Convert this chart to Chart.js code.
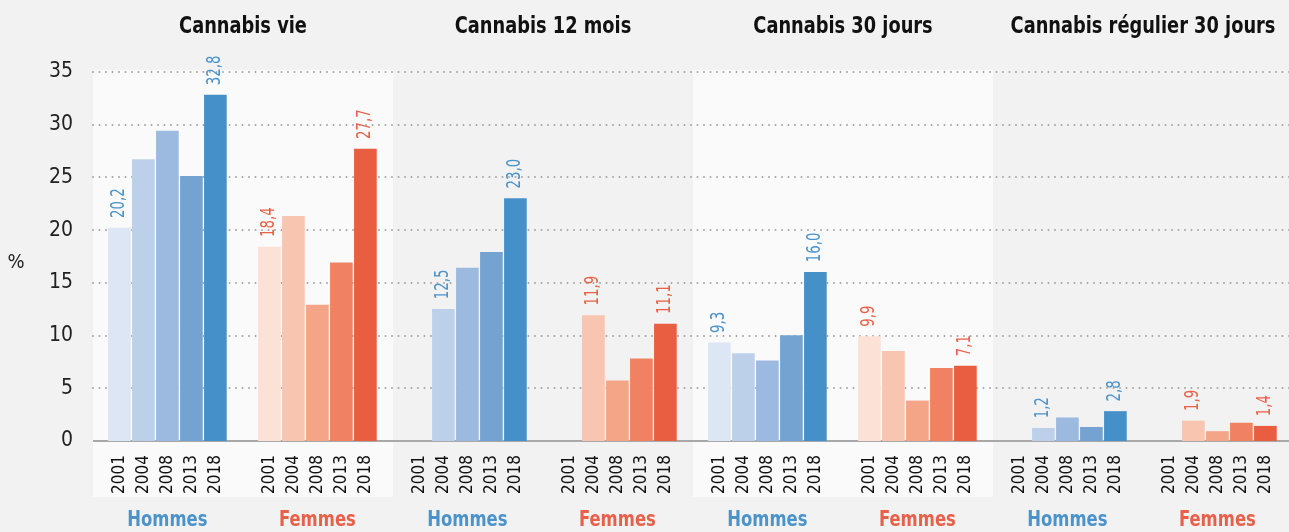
<!DOCTYPE html>
<html>
<head>
<meta charset="utf-8">
<script src="https://cdn.jsdelivr.net/npm/chart.js@4"></script>
<style>
html, body { margin: 0; padding: 0; background: #f2f2f2; overflow: hidden; }
#wrap { width: 1293px; height: 532px; }
</style>
</head>
<body>
<div id="wrap"><canvas id="cannabisChart" width="1293" height="532"></canvas></div>
<script>
/* data */
const panelTitles = ["Cannabis vie", "Cannabis 12 mois", "Cannabis 30 jours", "Cannabis régulier 30 jours"];
const groups = ["Hommes", "Femmes"];
const years = ["2001", "2004", "2008", "2013", "2018"];
const hommes = [
    [20.2, 26.7, 29.4, 25.1, 32.8],
    [null, 12.5, 16.4, 17.9, 23.0],
    [9.3, 8.3, 7.6, 10.0, 16.0],
    [null, 1.2, 2.2, 1.3, 2.8]
];
const femmes = [
    [18.4, 21.3, 12.9, 16.9, 27.7],
    [null, 11.9, 5.7, 7.8, 11.1],
    [9.9, 8.5, 3.8, 6.9, 7.1],
    [null, 1.9, 0.9, 1.7, 1.4]
];
const yTicks = [0, 5, 10, 15, 20, 25, 30, 35];

/* styles */
const hommesColors = ["#dce6f4", "#bdd0e9", "#9cbadf", "#74a3d2", "#4590c8"];
const femmesColors = ["#fce1d6", "#f8c5b1", "#f4a487", "#f08263", "#e95d40"];
const groupColors = ["#4b93cb", "#e9604a"];
const FONT = "'Liberation Sans Narrow', 'DejaVu Sans Condensed', 'Liberation Sans', sans-serif";

/* layout in bar slots */
const PANEL = 12.5;
const groupOffset = [0.6, 6.85];

const points = [];
const colors = [];
const labelFlags = [];
[hommes, femmes].forEach((series, g) => {
    series.forEach((vals, p) => {
        const first = vals.findIndex(v => v !== null);
        vals.forEach((v, i) => {
            points.push({ x: p * PANEL + groupOffset[g] + i + 0.5, y: v, g: g, i: i });
            colors.push((g === 0 ? hommesColors : femmesColors)[i]);
            labelFlags.push(v !== null && (i === first || i === vals.length - 1));
        });
    });
});
// ticks sorted by position
const order = points.map((pt, k) => k).sort((a, b) => points[a].x - points[b].x);
const tickPos = order.map(k => points[k].x);
const tickLabels = order.map(k => years[points[k].i]);

// draw condensed text (sx squeezes along the text direction)
function squeezeText(ctx, text, x, y, sx) {
    ctx.save();
    ctx.translate(x, y);
    ctx.scale(sx, 1);
    ctx.fillText(text, 0, 0);
    ctx.restore();
}

const decorPlugin = {
    id: "decor",
    beforeDraw(chart) {
        const { ctx, chartArea, scales: { x } } = chart;
        ctx.save();
        ctx.fillStyle = "#fafafa";
        [0, 2].forEach(p => {
            const l = x.getPixelForValue(p * PANEL);
            const r = x.getPixelForValue((p + 1) * PANEL);
            ctx.fillRect(l, chartArea.top - 2, r - l, 497 - chartArea.top + 2);
        });
        ctx.restore();
    },
    beforeDatasetsDraw(chart) {
        const { ctx, chartArea, scales: { y } } = chart;
        ctx.save();
        yTicks.forEach(t => {
            const py = Math.round(y.getPixelForValue(t));
            ctx.beginPath();
            if (t === 0) {
                ctx.setLineDash([]);
                ctx.strokeStyle = "#a8a8a8";
                ctx.lineWidth = 2;
            } else {
                ctx.setLineDash([0, 6.5]);
                ctx.lineCap = "round";
                ctx.strokeStyle = "#a6a6a6";
                ctx.lineWidth = 2;
            }
            ctx.moveTo(chartArea.left, py);
            ctx.lineTo(chartArea.right, py);
            ctx.stroke();
        });
        ctx.restore();
    },
    afterDatasetsDraw(chart) {
        const { ctx, scales: { x } } = chart;
        const meta = chart.getDatasetMeta(0);
        ctx.save();
        // value labels
        ctx.font = "19px " + FONT;
        ctx.textAlign = "left";
        ctx.textBaseline = "middle";
        meta.data.forEach((bar, k) => {
            if (!labelFlags[k]) return;
            const pt = points[k];
            ctx.save();
            ctx.translate(bar.x, bar.y - 10);
            ctx.rotate(-Math.PI / 2);
            ctx.fillStyle = groupColors[pt.g];
            squeezeText(ctx, pt.y.toFixed(1).replace(".", ","), 0, 0, 0.78);
            ctx.restore();
        });
        // panel titles
        ctx.fillStyle = "#111";
        ctx.textAlign = "center";
        ctx.font = "bold 23px " + FONT;
        panelTitles.forEach((t, p) => {
            squeezeText(ctx, t, x.getPixelForValue(p * PANEL + PANEL / 2), 27, 0.86);
        });
        // group labels
        ctx.font = "bold 21px " + FONT;
        panelTitles.forEach((t, p) => {
            groups.forEach((gname, g) => {
                ctx.fillStyle = groupColors[g];
                squeezeText(ctx, gname, x.getPixelForValue(p * PANEL + groupOffset[g] + 2.5), 521, 0.87);
            });
        });
        // axis unit
        ctx.fillStyle = "#222";
        ctx.font = "20px " + FONT;
        ctx.fillText("%", 16, 263);
        ctx.restore();
    }
};

new Chart(document.getElementById("cannabisChart"), {
    type: "bar",
    data: {
        datasets: [{
            data: points,
            backgroundColor: colors,
            barThickness: 22
        }]
    },
    options: {
        responsive: false,
        animation: false,
        layout: { padding: { top: 72, left: 0, right: 0, bottom: 0 } },
        plugins: { legend: { display: false }, tooltip: { enabled: false } },
        scales: {
            x: {
                type: "linear",
                offset: false,
                min: 0,
                max: 4 * PANEL,
                grid: { display: false, drawTicks: false },
                border: { display: false },
                afterBuildTicks: scale => { scale.ticks = tickPos.map(v => ({ value: v })); },
                afterFit: scale => {
                    scale.height = 91;
                    scale.paddingLeft = 0;
                    scale.paddingRight = 0;
                },
                ticks: {
                    autoSkip: false,
                    minRotation: 90,
                    maxRotation: 90,
                    padding: 14,
                    color: "#111",
                    font: { size: 17, family: FONT },
                    callback: (v, idx) => tickLabels[idx]
                }
            },
            y: {
                min: 0,
                max: 35,
                grid: { display: false, drawTicks: false },
                border: { display: false },
                afterBuildTicks: scale => { scale.ticks = yTicks.map(v => ({ value: v })); },
                afterFit: scale => { scale.width = 93; },
                ticks: {
                    padding: 20,
                    color: "#222",
                    font: { size: 21, family: FONT }
                }
            }
        }
    },
    plugins: [decorPlugin]
});
</script>
</body>
</html>
